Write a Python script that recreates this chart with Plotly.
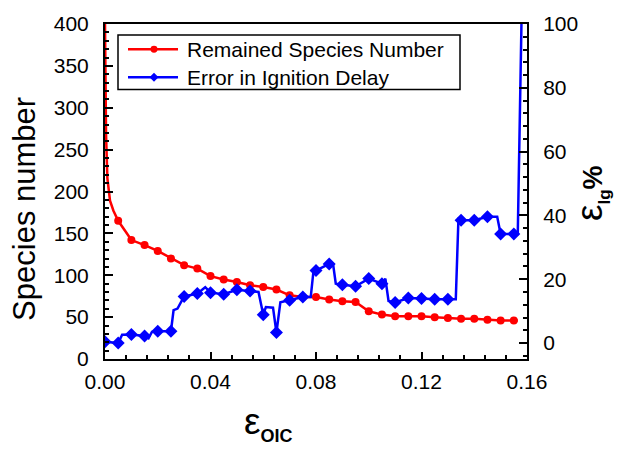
import plotly.graph_objects as go

# ---- data -------------------------------------------------------------
# Remained species number: marked samples (every 0.005) plus the steep head of the curve
species_x = [0.005, 0.010, 0.015, 0.020, 0.025, 0.030, 0.035, 0.040, 0.045, 0.050,
             0.055, 0.060, 0.065, 0.070, 0.075, 0.080, 0.085, 0.090, 0.095, 0.100,
             0.105, 0.110, 0.115, 0.120, 0.125, 0.130, 0.135, 0.140, 0.145, 0.150, 0.155]
species_y = [165, 142, 136, 129, 120, 112, 108, 99, 95, 92,
             88, 86, 83, 76, 74, 74, 71, 69, 68, 57,
             53, 51, 51, 51, 50, 49, 48, 48, 47, 46, 46]
species_head_x = [0.0, 0.0002, 0.0004, 0.0009, 0.0019, 0.0032]
species_head_y = [400, 330, 268, 216, 189, 177]
species_tail_x = [0.1565]
species_tail_y = [46]

# Error in ignition delay (%): marked samples
error_x = [0.000, 0.005, 0.010, 0.015, 0.020, 0.025, 0.030, 0.035, 0.040, 0.045,
           0.050, 0.055, 0.060, 0.065, 0.070, 0.075, 0.080, 0.085, 0.090, 0.095,
           0.100, 0.105, 0.110, 0.115, 0.120, 0.125, 0.130, 0.135, 0.140, 0.145,
           0.150, 0.155]
error_y = [0.4, 0.0, 2.7, 2.2, 3.7, 3.7, 14.6, 15.5, 15.8, 15.3,
           16.7, 16.3, 8.9, 3.3, 13.4, 14.4, 22.7, 24.8, 18.3, 17.8,
           20.2, 18.6, 12.7, 14.1, 14.0, 13.7, 13.7, 38.5, 38.5, 39.6,
           34.2, 34.2]
# intermediate vertices of the error curve between marked samples
error_step_x = [0.0065, 0.0165, 0.0178, 0.026, 0.0275, 0.038, 0.0582, 0.061, 0.0637,
                0.0665, 0.078, 0.079, 0.0865, 0.0875, 0.1063, 0.1075, 0.133, 0.134,
                0.1487, 0.1565, 0.158]
error_step_y = [2.6, 1.5, 3.5, 10.3, 10.8, 17.5, 16.0, 11.3, 11.1,
                12.8, 14.4, 22.2, 24.6, 18.6, 20.2, 13.2, 13.7, 38.8,
                39.6, 34.2, 105]

x_ticks = [0.00, 0.04, 0.08, 0.12, 0.16]
x_tick_text = ["0.00", "0.04", "0.08", "0.12", "0.16"]
legend_names = ["Remained Species Number", "Error in Ignition Delay"]

RED = "#ff0000"
BLUE = "#0000ff"
FONT = "Liberation Sans, Arial, sans-serif"

W, H = 623, 449
L, R, T, B = 105, 527, 22, 359   # plot area in pixels


def px(x):
    return (x - L) / (R - L)


def py(y):
    return (B - y) / (B - T)


species_line_x = species_head_x + species_x + species_tail_x
species_line_y = species_head_y + species_y + species_tail_y

error_path = sorted(zip(error_x + error_step_x, error_y + error_step_y))
error_line_x = [p[0] for p in error_path]
error_line_y = [p[1] for p in error_path]

fig = go.Figure()

fig.add_trace(go.Scatter(x=species_line_x, y=species_line_y, mode="lines",
                         line=dict(color=RED, width=2.5), showlegend=False,
                         hoverinfo="skip"))
fig.add_trace(go.Scatter(x=species_x, y=species_y, mode="markers",
                         marker=dict(color=RED, size=8, symbol="circle"),
                         name=legend_names[0], showlegend=False))
fig.add_trace(go.Scatter(x=error_line_x, y=error_line_y, mode="lines", yaxis="y2",
                         line=dict(color=BLUE, width=2.5), showlegend=False,
                         hoverinfo="skip"))
fig.add_trace(go.Scatter(x=error_x, y=error_y, mode="markers", yaxis="y2",
                         marker=dict(color=BLUE, size=10, symbol="diamond"),
                         name=legend_names[1], showlegend=False))

tick_font = dict(family=FONT, size=21, color="black")
axis_common = dict(showline=True, linecolor="black", linewidth=2, ticks="inside",
                   tickcolor="black", tickwidth=2, showgrid=False, zeroline=False,
                   tickfont=tick_font)

fig.update_layout(
    width=W, height=H,
    margin=dict(l=L, r=W - R, t=T, b=H - B, pad=0),
    paper_bgcolor="white", plot_bgcolor="white",
    showlegend=False,
    xaxis=dict(range=[0, 0.16], tickmode="array", tickvals=x_ticks, ticktext=x_tick_text,
               ticklen=7, mirror=True, ticklabelstandoff=3,
               minor=dict(tickmode="array",
                          tickvals=[i * 0.008 for i in range(21)],
                          ticks="inside", ticklen=4, tickwidth=1.5, tickcolor="black"),
               **axis_common),
    yaxis=dict(range=[0, 400], tickmode="linear", tick0=0, dtick=50, ticklen=8,
               ticklabelstandoff=10,
               minor=dict(tickmode="array", tickvals=list(range(0, 401, 10)),
                          ticks="inside", ticklen=4, tickwidth=1.5, tickcolor="black"),
               **axis_common),
    yaxis2=dict(range=[-5, 100], overlaying="y", side="right", tickmode="linear",
                tick0=0, dtick=20, ticklen=8, ticklabelstandoff=10,
                minor=dict(tickmode="array", tickvals=list(range(-4, 101, 4)),
                           ticks="inside", ticklen=4, tickwidth=1.5, tickcolor="black"),
                **axis_common),
)

# axis titles
fig.add_annotation(x=px(25), y=py(208), xref="paper", yref="paper",
                   text="Species number", textangle=-90, showarrow=False,
                   font=dict(family=FONT, size=31, color="black"),
                   xanchor="center", yanchor="middle")
fig.add_annotation(x=px(268), y=py(424), xref="paper", yref="paper",
                   text='ε<sub><b><span style="font-size:18px">OIC</span></b></sub>',
                   showarrow=False, font=dict(family=FONT, size=37, color="black"),
                   xanchor="center", yanchor="middle")
fig.add_annotation(x=px(592), y=py(192), xref="paper", yref="paper",
                   text='ε<sub><b><span style="font-size:17px">Ig</span></b></sub>'
                        '<b><span style="font-size:27px">%</span></b>',
                   textangle=-90, showarrow=False,
                   font=dict(family=FONT, size=37, color="black"),
                   xanchor="center", yanchor="middle")

# legend box with line + marker samples
box = dict(x0=118, y0=33, x1=460, y1=88)
fig.add_shape(type="rect", xref="paper", yref="paper",
              x0=px(box["x0"]), x1=px(box["x1"]), y0=py(box["y1"]), y1=py(box["y0"]),
              line=dict(color="black", width=1.5), fillcolor="white", layer="above")
rows = [(47.5, RED, "circle"), (75.5, BLUE, "diamond")]
for (ry, col, sym), name in zip(rows, legend_names):
    fig.add_shape(type="line", xref="paper", yref="paper",
                  x0=px(128), x1=px(178), y0=py(ry), y1=py(ry),
                  line=dict(color=col, width=2.5), layer="above")
    if sym == "circle":
        r = 3.5
        fig.add_shape(type="circle", xref="paper", yref="paper",
                      x0=px(154 - r), x1=px(154 + r), y0=py(ry + r), y1=py(ry - r),
                      line=dict(color=col, width=0), fillcolor=col, layer="above")
    else:
        d = 4.5
        path = "M {} {} L {} {} L {} {} L {} {} Z".format(
            px(154), py(ry - d), px(154 + d), py(ry), px(154), py(ry + d), px(154 - d), py(ry))
        fig.add_shape(type="path", xref="paper", yref="paper", path=path,
                      line=dict(color=col, width=0), fillcolor=col, layer="above")
    fig.add_annotation(x=px(185), y=py(ry), xref="paper", yref="paper", text=name,
                       showarrow=False, xanchor="left", yanchor="middle",
                       font=dict(family=FONT, size=21, color="black"))

fig.write_html("out.html")
